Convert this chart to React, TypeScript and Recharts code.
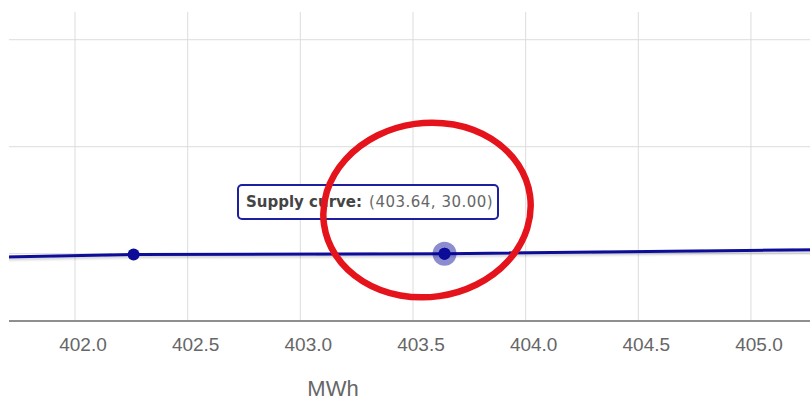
import { CartesianGrid, Line, LineChart, Tooltip, XAxis, YAxis } from "recharts";

// supply curve readings (MWh, price)
const supplyMwh = [401.5, 402.26, 403.64, 405.5];
const supplyPrice = [29.62, 29.93, 30.0, 30.42];
const markerMwh = [402.26, 403.64];
const hoverIndex = 2;

const xTicks = [402.0, 402.5, 403.0, 403.5, 404.0, 404.5, 405.0];
const yTicks = [30, 40, 50];
const xDomain = [401.707, 405.262];
const yDomain = [23.71, 52.59];

const seriesName = "Supply curve";
const axisTitle = "MWh";

const data = supplyMwh.map((mwh, i) => ({ mwh, price: supplyPrice[i] }));

const navy = "#0c0c98";

function MarkerDot(props: any) {
  const { cx, cy, payload } = props;
  if (!markerMwh.includes(payload.mwh)) return null;
  return <circle key={`dot-${payload.mwh}`} cx={cx} cy={cy} r={6} fill={navy} />;
}

function HoverDot(props: any) {
  const { cx, cy } = props;
  return (
    <g>
      <circle cx={cx} cy={cy} r={12} fill="rgba(0,0,150,0.45)" />
      <circle cx={cx} cy={cy} r={6} fill={navy} />
    </g>
  );
}

function XTick(props: any) {
  const { x, y, payload } = props;
  return (
    <text x={x + 8} y={y + 28} textAnchor="middle" fill="#666" fontSize={19} fontFamily="'Liberation Sans', Arial, sans-serif">
      {Number(payload.value).toFixed(1)}
    </text>
  );
}

function AxisTitle(props: any) {
  const { viewBox } = props;
  return (
    <text x={viewBox.x + 324} y={viewBox.y + 75} textAnchor="middle" fill="#666" fontSize={22} fontFamily="'Liberation Sans', Arial, sans-serif">
      {axisTitle}
    </text>
  );
}

function SupplyTooltip({ active, payload }: { active?: boolean; payload?: Array<{ payload: { mwh: number; price: number } }> }) {
  if (!active || !payload?.length) return null;
  const p = payload[0].payload;
  return (
    <div
      style={{
        boxSizing: "border-box",
        width: 262,
        height: 36,
        background: "#fff",
        border: "2px solid #1e1ea0",
        borderRadius: 5,
        padding: "0 7px",
        display: "flex",
        alignItems: "center",
        whiteSpace: "nowrap",
        fontFamily: "'DejaVu Sans', Verdana, sans-serif",
        fontSize: 15,
        color: "#666",
      }}
    >
      <b style={{ color: "#444", fontSize: 15 }}>{seriesName}:</b>
      <span style={{ marginLeft: 7, letterSpacing: 0.5 }}>{`(${p.mwh.toFixed(2)}, ${p.price.toFixed(2)})`}</span>
    </div>
  );
}

// grid lines only at the tick values (no frame lines on the plot edges)
const gridY = ({ offset }: any) =>
  yTicks.map((t) => offset.top + ((yDomain[1] - t) / (yDomain[1] - yDomain[0])) * offset.height);
const gridX = ({ offset }: any) =>
  xTicks.map((t) => offset.left + ((t - xDomain[0]) / (xDomain[1] - xDomain[0])) * offset.width);

export default function App() {
  return (
    <div style={{ position: "relative", width: 810, height: 403, background: "#fff" }}>
      <style>{"body{margin:0}"}</style>
      <LineChart width={810} height={403} data={data} margin={{ top: 12, right: 0, left: 9, bottom: 52 }}>
        <defs>
          <filter id="lineShadow" x="-5%" y="-50%" width="110%" height="200%">
            <feDropShadow dx="0" dy="2" stdDeviation="1.2" floodColor="#000" floodOpacity="0.18" />
          </filter>
        </defs>
        <CartesianGrid
          stroke="#dcdcdc"
          strokeWidth={1}
          horizontalCoordinatesGenerator={gridY}
          verticalCoordinatesGenerator={gridX}
        />
        <XAxis
          dataKey="mwh"
          type="number"
          domain={xDomain}
          ticks={xTicks}
          allowDataOverflow
          height={30}
          tickLine={false}
          tickSize={0}
          tick={<XTick />}
          axisLine={{ stroke: "#8f8f8f", strokeWidth: 2 }}
          label={<AxisTitle />}
        />
        <YAxis type="number" domain={yDomain} ticks={yTicks} allowDataOverflow hide />
        <Tooltip
          content={<SupplyTooltip />}
          active
          defaultIndex={hoverIndex}
          cursor={false}
          position={{ x: 237, y: 184 }}
          isAnimationActive={false}
          wrapperStyle={{ outline: "none" }}
        />
        <Line
          type="linear"
          dataKey="price"
          name={seriesName}
          stroke={navy}
          strokeWidth={3}
          filter="url(#lineShadow)"
          dot={<MarkerDot />}
          activeDot={<HoverDot />}
          isAnimationActive={false}
        />
      </LineChart>
      <svg width={810} height={403} style={{ position: "absolute", left: 0, top: 0, pointerEvents: "none", zIndex: 10 }}>
        <ellipse cx={427} cy={210} rx={104} ry={87} transform="rotate(-8 427 210)" fill="none" stroke="#e5131b" strokeWidth={6.5} />
      </svg>
    </div>
  );
}
